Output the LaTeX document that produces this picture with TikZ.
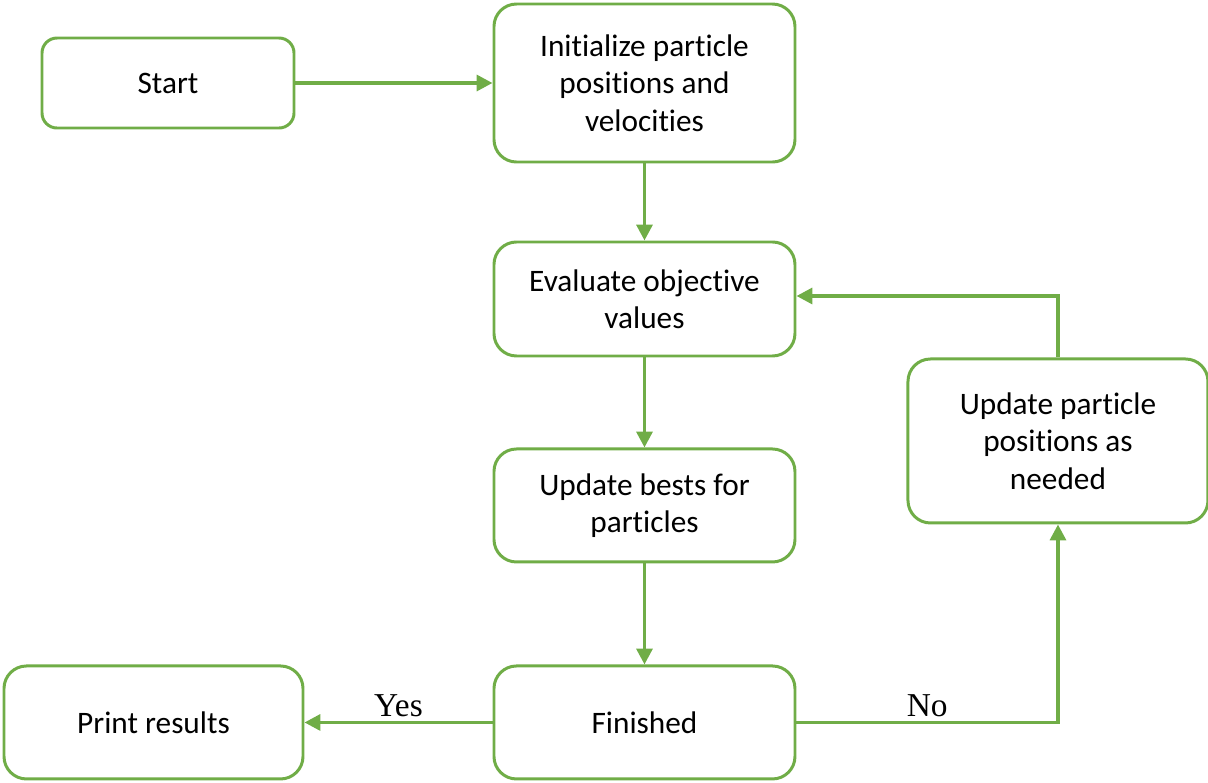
\documentclass[tikz,border=0pt]{standalone}
\usepackage{fontspec}
\setmainfont{Carlito}[Ligatures=NoCommon]
\newfontfamily\labelfont{Liberation Serif}
\usetikzlibrary{positioning,arrows.meta}
\definecolor{flowgreen}{HTML}{70AD47}

\begin{document}
\begin{tikzpicture}[
    box/.style={rectangle, rounded corners=0.45cm, draw=flowgreen, line width=1.7pt,
        minimum width=6.02cm, align=center, font=\fontsize{17.8}{21.3}\selectfont},
    flow/.style={-{Triangle[length=9pt, width=9pt]}, draw=flowgreen, line width=2pt},
    lbl/.style={font=\labelfont\fontsize{19}{22}\selectfont, inner sep=2pt},
    ]
    \useasboundingbox (0,0) rectangle (24.16,-15.64);

    % main column
    \node[box, minimum width=5.04cm, minimum height=1.8cm, rounded corners=0.3cm] (start) at (3.36,-1.66) {Start};
    \node[box, minimum height=3.16cm, right=3.94cm of start] (init) {Initialize particle\\positions and\\velocities};
    \node[box, minimum height=2.28cm, below=1.54cm of init] (eval) {Evaluate objective\\values};
    \node[box, minimum height=2.26cm, below=1.8cm of eval] (bests) {Update bests for\\particles};
    \node[box, minimum height=2.26cm, below=2.02cm of bests] (fin) {Finished};

    % side boxes
    \node[box, minimum width=5.98cm, minimum height=2.26cm, left=3.76cm of fin] (print) {Print results};
    \node[box, minimum width=6cm, minimum height=3.28cm, right=2.2cm of bests, yshift=1.29cm] (upd) {Update particle\\positions as\\needed};

    % arrows down the column
    \draw[flow] (start.east) to (init.west);
    \draw[flow] (init.south) to (eval.north);
    \draw[flow] (eval.south) to (bests.north);
    \draw[flow] (bests.south) to (fin.north);

    % decision arrows
    \draw[flow] (fin.west) to node[lbl, above] {Yes} (print.east);
    \draw[flow] (fin.east) -| node[lbl, above, pos=0.25] {No} (upd.south);
    \draw[flow] (upd.north) |- ([yshift=0.06cm]eval.east);

\end{tikzpicture}
\end{document}
